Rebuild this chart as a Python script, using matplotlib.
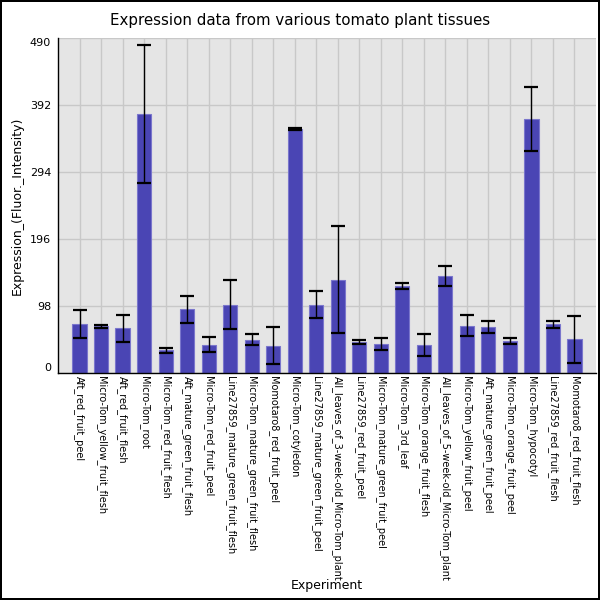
import matplotlib
matplotlib.use("Agg")
import matplotlib.pyplot as plt

experiments = [
    "Aft_red_fruit_peel", "Micro-Tom_yellow_fruit_flesh", "Aft_red_fruit_flesh",
    "Micro-Tom_root", "Micro-Tom_red_fruit_flesh", "Aft_mature_green_fruit_flesh",
    "Micro-Tom_red_fruit_peel", "Line27859_mature_green_fruit_flesh",
    "Micro-Tom_mature_green_fruit_flesh", "Momotaro8_red_fruit_peel",
    "Micro-Tom_cotyledon", "Line27859_mature_green_fruit_peel",
    "All_leaves_of_3-week-old_Micro-Tom_plant", "Line27859_red_fruit_peel",
    "Micro-Tom_mature_green_fruit_peel", "Micro-Tom_3rd_leaf",
    "Micro-Tom_orange_fruit_flesh", "All_leaves_of_5-week-old_Micro-Tom_plant",
    "Micro-Tom_yellow_fruit_peel", "Aft_mature_green_fruit_peel",
    "Micro-Tom_orange_fruit_peel", "Micro-Tom_hypocotyl",
    "Line27859_red_fruit_flesh", "Momotaro8_red_fruit_flesh",
]
values = [72, 68.5, 65.5, 379.5, 33.5, 93.5, 41.5, 100.5, 49, 40.3,
          357, 100.5, 136.8, 45.8, 43.2, 128, 41.5, 142.6, 69.5, 67.2,
          47.5, 372, 71.5, 49.5]
errors = [21, 2, 20, 100.5, 4, 20, 11, 35.5, 8, 27,
          1.5, 19.5, 78.5, 2.5, 9, 4.5, 16, 14.5, 15.5, 9,
          4.5, 46.5, 4.7, 34.5]
yticks = [0, 98, 196, 294, 392, 490]

fig = plt.figure(figsize=(6, 6), dpi=100)
fig.patch.set_facecolor("white")
fig.patch.set_edgecolor("black")
fig.patch.set_linewidth(1.5)
ax = fig.add_axes([0.0967, 0.378, 0.8966, 0.558])
ax.set_facecolor("#e5e5e5")

x = list(range(len(experiments)))
ax.bar(x, values, width=0.66, color="#4a45b4", edgecolor="#7a76cc", linewidth=0.8,
       zorder=2)
ax.errorbar(x, values, yerr=errors, fmt="none", ecolor="black", elinewidth=1.0,
            capsize=4.7, capthick=1.6, zorder=3)

ax.set_xlim(-1, len(experiments))
ax.set_ylim(0, 490)
ax.set_yticks(yticks)
ax.set_yticklabels([str(t) for t in yticks], fontsize=8)
ax.set_xticks(x)
ax.set_xticklabels(experiments, rotation=270, fontsize=7, va="top", ha="center")
ax.tick_params(axis="both", length=0)
ax.tick_params(axis="x", pad=2)
ax.tick_params(axis="y", pad=5)
ticks = ax.yaxis.get_major_ticks()
ticks[0].label1.set_va("bottom")
ticks[-1].label1.set_va("top")

ax.grid(True, color="#c8c8c8", linewidth=1, zorder=0)
ax.set_axisbelow(True)
for s in ["top", "right"]:
    ax.spines[s].set_visible(False)
for s in ["left", "bottom"]:
    ax.spines[s].set_color("black")
    ax.spines[s].set_linewidth(1)

fig.text(0.5, 1 - 20 / 600, "Expression data from various tomato plant tissues",
         fontsize=10.8, ha="center", va="center")
ax.set_ylabel("Expression_(Fluor._Intensity)", fontsize=9)
ax.set_xlabel("Experiment", fontsize=9)
ax.xaxis.set_label_coords(0.5, -0.615)

fig.savefig("out.png", dpi=100, facecolor=fig.get_facecolor(), edgecolor=fig.get_edgecolor())
